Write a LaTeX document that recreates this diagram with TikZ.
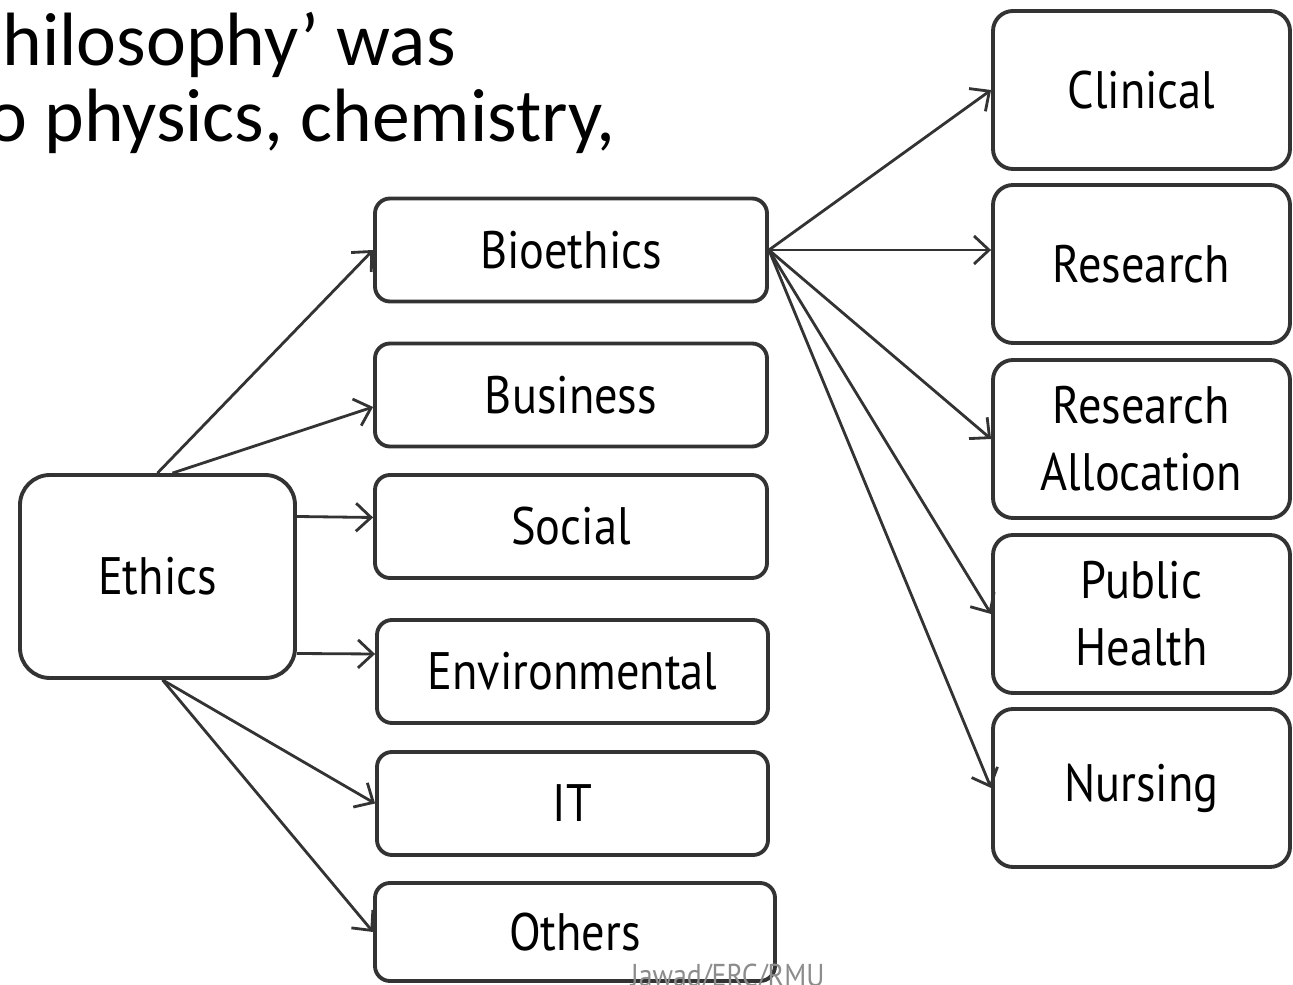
\documentclass[tikz,border=0pt]{standalone}
\usepackage{fontspec}
\setmainfont[FakeStretch=0.88]{PT Sans}
\newfontfamily\slidefont{Carlito}
\usetikzlibrary{arrows.meta}

\tikzset{
	box/.style={draw=black!80, line width=1.1pt, rounded corners=0.15cm, align=center,
		inner sep=0pt, font=\fontsize{15}{19}\selectfont},
	midbox/.style={box, minimum width=3.92cm, minimum height=1.03cm},
	rightbox/.style={box, rounded corners=0.2cm, minimum width=2.97cm, minimum height=1.58cm},
	link/.style={draw=black!80, line width=0.8pt, ->},
}

\begin{document}
\begin{tikzpicture}[>={Straight Barb[length=1.5mm, width=2.8mm]}]
		% \draw [help lines, thin, step=10mm] (0,-9.85) grid (12.93,0);
		\useasboundingbox (0,0) rectangle (12.93,-9.85);
		\clip (0,0) rectangle (12.93,-9.85);

		\node [anchor=north west, align=left, inner sep=0pt, font=\slidefont\fontsize{21.5}{21.5}\selectfont]
			(slide) at (-0.13,-0.12) {\hspace*{0.15cm}hilosophy’ was\\o physics, chemistry,};

		\node [box, rounded corners=0.3cm, minimum width=2.75cm, minimum height=2.03cm] (ethics) at (1.575,-5.765) {Ethics};

		\node [midbox] (bio) at (5.71,-2.50) {Bioethics};
		\node [midbox] (business) at (5.71,-3.95) {Business};
		\node [midbox] (social) at (5.71,-5.265) {Social};
		\node [midbox, minimum width=3.91cm] (env) at (5.725,-6.715) {Environmental};
		\node [midbox, minimum width=3.91cm] (it) at (5.725,-8.035) {IT};
		\node [midbox, minimum width=4.0cm, minimum height=0.98cm] (others) at (5.75,-9.32) {Others};

		\node [rightbox] (clinical) at (11.415,-0.90) {Clinical};
		\node [rightbox] (research) at (11.415,-2.64) {Research};
		\node [rightbox] (resalloc) at (11.415,-4.39) {Research\\Allocation};
		\node [rightbox] (pubhealth) at (11.415,-6.14) {Public\\Health};
		\node [rightbox] (nursing) at (11.415,-7.88) {Nursing};

		\draw [link] (ethics.north) -- (bio.west);
		\draw [link] ([xshift=1.5mm]ethics.north) -- ([yshift=-1.2mm]business.west);
		\draw [link] ([yshift=6mm]ethics.east) -- ([yshift=0.9mm]social.west);
		\draw [link] ([yshift=-7.7mm]ethics.east) -- ([yshift=1.75mm]env.west);
		\draw [link] ([xshift=0.5mm]ethics.south) -- (it.west);
		\draw [link] ([xshift=0.5mm]ethics.south) -- (others.west);

		\draw [link] (bio.east) -- (bio.east -| research.west);
		\foreach \n in {clinical, resalloc, pubhealth, nursing}
			\draw [link] (bio.east) -- (\n.west);

		\node [anchor=base west, inner sep=0pt, text=black!45, font=\fontsize{9}{9}\selectfont]
			(mark) at (6.3,-9.86) {Jawad/ERC/RMU};
	\end{tikzpicture}
\end{document}
